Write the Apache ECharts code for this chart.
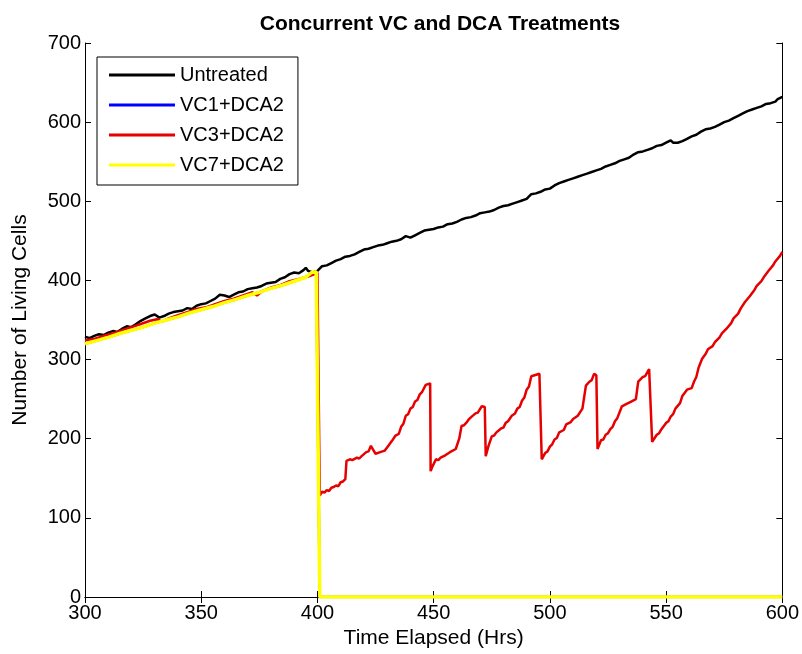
<!DOCTYPE html>
<html>
<head>
<meta charset="utf-8">
<script src="https://cdn.jsdelivr.net/npm/echarts@6/dist/echarts.min.js"></script>
<style>
  html, body { margin: 0; padding: 0; background: #fff; }
  #chart { width: 802px; height: 654px; }
</style>
</head>
<body>
<div id="chart"></div>
<script>
// Cell counts over time, [hour, cells]
const untreated = [
  [300,329],[302,327],[304,330],[306,332],[308,331],[310,334],[312,336],[314,335],[316,339],[318,342],
  [320,341],[322,345],[324,349],[326,352],[328,355],[330,357],[332,353],[334,355],[336,358],[338,360],
  [340,361],[342,362],[344,365],[346,364],[348,368],[350,370],[352,371],[354,374],[356,377],[358,382],
  [360,381],[362,379],[364,382],[366,385],[368,386],[370,389],[372,390],[374,391],[376,393],[378,396],
  [380,397],[382,398],[384,402],[386,404],[388,408],[390,410],[392,409],[394,413],[395,416],[396,412],
  [398,410],[400,412],[402,418],[404,419],[406,422],[408,425],[410,427],[412,430],[414,431],[416,433],
  [418,436],[420,439],[422,440],[424,442],[426,444],[428,445],[430,447],[432,449],[434,450],[436,452],
  [438,456],[440,454],[442,457],[444,460],[446,463],[448,464],[450,465],[452,467],[454,468],[456,471],
  [458,472],[460,474],[462,477],[464,479],[466,480],[468,482],[470,485],[472,486],[474,487],[476,489],
  [478,492],[480,494],[482,495],[484,497],[486,499],[488,501],[490,503],[492,509],[494,510],[496,512],
  [498,515],[500,516],[502,520],[504,523],[506,525],[508,527],[510,529],[512,531],[514,533],[516,535],
  [518,537],[520,539],[522,541],[524,544],[526,546],[528,548],[530,551],[532,553],[534,555],[536,559],
  [538,562],[540,563],[542,565],[544,567],[546,570],[548,571],[550,574],[552,577],[553,574],[555,574],
  [557,576],[559,579],[561,582],[563,584],[565,588],[567,591],[569,592],[571,594],[573,597],[575,600],
  [577,602],[579,605],[581,608],[583,611],[585,614],[587,616],[589,618],[591,620],[593,623],[595,624],
  [597,626],[598,629],[600,632]
];

const vc1dca2 = [
  [300,320],[305,324],[310,328],[315,333],[320,337],[325,341],[330,346],[335,350],[340,354],[345,359],
  [350,363],[355,367],[360,372],[365,376],[370,381],[375,385],[380,390],[385,394],[390,399],[395,404],
  [397.5,410],[399.5,411],[401,0],[600,0]
];

const vc3dca2 = [
  [300,324],[304,326],[308,330],[312,333],[316,337],[320,341],[324,345],[328,349],[331,351],[333,348],
  [336,352],[340,356],[344,360],[348,364],[352,366],[356,370],[360,374],[364,377],[368,381],[372,385],
  [374,381],[376,386],[380,391],[384,394],[388,399],[392,402],[396,405],[398,407],[400,410],[400.5,410],
  [401,128],[402,133],[403,132],[404,135],[405,134],[406,138],[407,139],[408,141],[409,140],[410,145],
  [411,146],[412,149],[412.5,172],[414,174],[415,173],[417,176],[418,175],[419,178],[421,183],[422,184],
  [423,191],[424,186],[425,181],[427,183],[429,185],[431,193],[432,197],[433.6,204],[435,206],[436,215],
  [437,219],[438,229],[439,231],[440,238],[441,240],[442,247],[443,249],[444,256],[445,259],[446.6,268],
  [448.5,270],[448.7,159],[449.5,165],[451,174],[452,173],[453,176],[455,179],[456,181],[457,183],[459.5,187],
  [461,200],[462,216],[463,217],[464,220],[465,224],[466,227],[468,232],[469,233],[470.7,241],[472,240],
  [472.4,178],[473.5,190],[475,203],[476,204],[477,208],[479,213],[480,214],[481,220],[482,222],[483.6,229],
  [485,232],[486,238],[487,240],[488,248],[489,252],[490,262],[491,266],[492,279],[495.5,282],[496.5,174],
  [498,182],[499,184],[500,190],[501,193],[502,199],[503,201],[504,208],[506,211],[507,218],[509,221],
  [510,225],[512,229],[514,238],[515.5,267],[517,272],[518,274],[519,282],[520,280],[520.5,187],[522,198],
  [523,199],[524,205],[525,207],[526,212],[527,215],[528,222],[529,226],[531,241],[533,244],[535,247],
  [537,250],[538,272],[540,278],[541,279],[542.7,288],[543.5,288],[544,196],[546,205],[547,207],[548,212],
  [550,220],[551,222],[552,228],[553,231],[554,238],[556,245],[557,254],[559,262],[561,264],[562,272],
  [563,278],[564,290],[565.5,301],[567,307],[568,313],[570,317],[571,322],[573,328],[574,333],[576,339],
  [578,346],[579,352],[581,358],[582,364],[584,373],[586,380],[588,388],[589,393],[591,399],[592,404],
  [594,412],[596,419],[597,424],[599,431],[600,436]
];

const vc7dca2 = [
  [300,320],[305,324],[310,328],[315,333],[320,337],[325,341],[330,346],[335,350],[340,354],[345,359],
  [350,363],[355,367],[360,372],[365,376],[370,381],[375,385],[380,390],[385,394],[390,399],[395,404],
  [397.5,410],[399.5,411],[401,0],[600,0]
];

const seriesNames = ['Untreated', 'VC1+DCA2', 'VC3+DCA2', 'VC7+DCA2'];
const seriesColors = ['#000000', '#0000ff', '#e60000', '#ffff00'];
const seriesWidths = [2.5, 2.5, 2.5, 3.5];
const seriesData = [untreated, vc1dca2, vc3dca2, vc7dca2];

const xTicks = { min: 300, max: 600, interval: 50 };
const yTicks = { min: 0, max: 700, interval: 100 };

const FONT = '"Liberation Sans", Arial, Helvetica, sans-serif';

const chart = echarts.init(document.getElementById('chart'), null, { renderer: 'canvas' });

const frameAxis = {
  axisLine: { show: true, lineStyle: { color: '#000', width: 1 } },
  axisTick: { show: true, inside: true, length: 6, lineStyle: { color: '#000', width: 1 } },
  splitLine: { show: false }
};

chart.setOption({
  animation: false,
  backgroundColor: '#fff',
  title: {
    text: 'Concurrent VC and DCA Treatments',
    left: 435,
    top: 9,
    textAlign: 'center',
    textStyle: { fontFamily: FONT, fontSize: 21, fontWeight: 'bold', color: '#000' }
  },
  grid: { left: 85, right: 17, top: 43, bottom: 57, containLabel: false },
  legend: {
    orient: 'vertical',
    left: 97,
    top: 57,
    icon: 'rect',
    itemWidth: 66,
    itemHeight: 3,
    itemGap: 10,
    padding: [8, 14, 10, 12],
    borderColor: '#000',
    borderWidth: 1,
    backgroundColor: '#fff',
    textStyle: { fontFamily: FONT, fontSize: 20, color: '#000' },
    data: seriesNames
  },
  xAxis: [
    Object.assign({
      type: 'value',
      position: 'bottom',
      min: xTicks.min, max: xTicks.max, interval: xTicks.interval,
      name: 'Time Elapsed (Hrs)',
      nameLocation: 'middle',
      nameGap: 26,
      nameTextStyle: { fontFamily: FONT, fontSize: 21, color: '#000' },
      axisLabel: { margin: 6, fontFamily: FONT, fontSize: 20, color: '#000' }
    }, frameAxis),
    Object.assign({
      type: 'value',
      position: 'top',
      min: xTicks.min, max: xTicks.max, interval: xTicks.interval,
      axisLabel: { show: false }
    }, frameAxis)
  ],
  yAxis: [
    Object.assign({
      type: 'value',
      position: 'left',
      min: yTicks.min, max: yTicks.max, interval: yTicks.interval,
      name: 'Number of Living Cells',
      nameLocation: 'middle',
      nameGap: 54,
      nameTextStyle: { fontFamily: FONT, fontSize: 21, color: '#000' },
      axisLabel: { margin: 4, fontFamily: FONT, fontSize: 20, color: '#000' }
    }, frameAxis),
    Object.assign({
      type: 'value',
      position: 'right',
      min: yTicks.min, max: yTicks.max, interval: yTicks.interval,
      axisLabel: { show: false }
    }, frameAxis)
  ],
  series: seriesNames.map((name, i) => ({
    name: name,
    type: 'line',
    xAxisIndex: 0,
    yAxisIndex: 0,
    data: seriesData[i],
    showSymbol: false,
    symbol: 'none',
    clip: true,
    color: seriesColors[i],
    lineStyle: { color: seriesColors[i], width: seriesWidths[i] },
    z: 2 + i
  }))
});
</script>
</body>
</html>
